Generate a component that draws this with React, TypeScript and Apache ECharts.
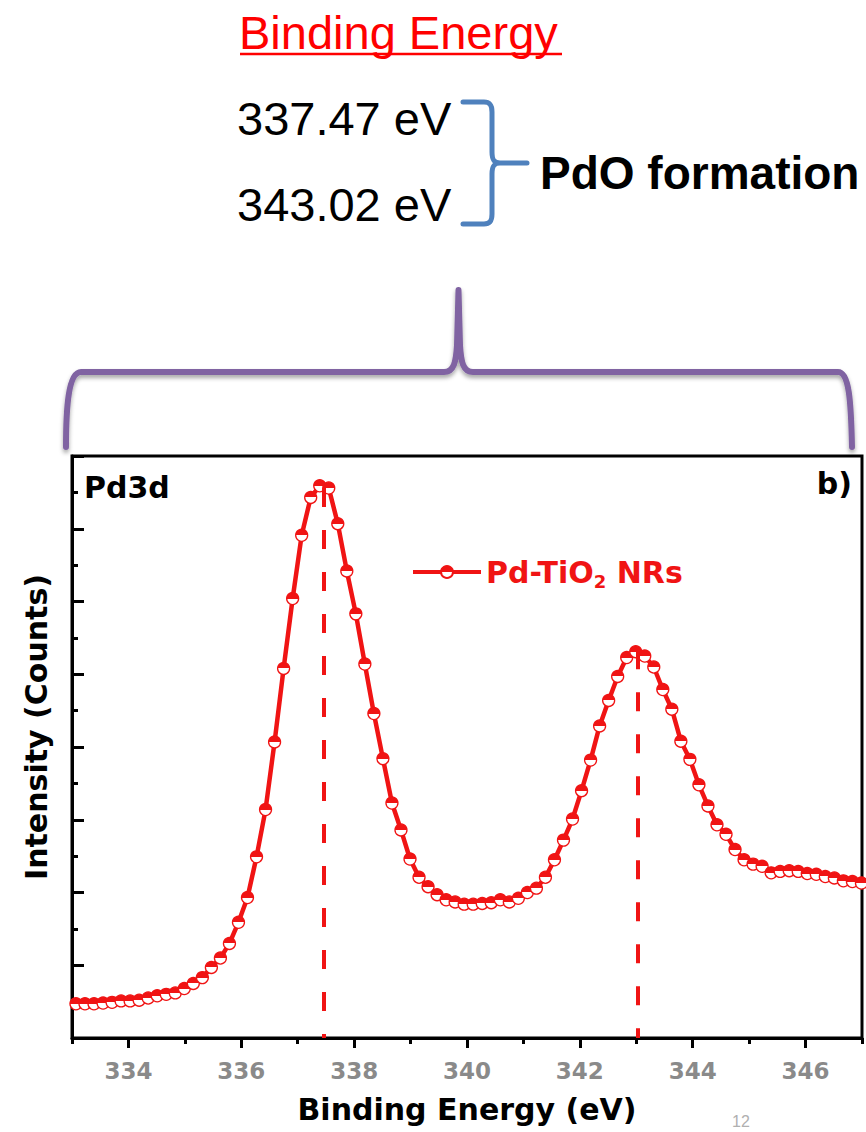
import React, { useEffect, useRef } from "react";
import * as echarts from "echarts";

// ---- data ----
const energies = [
  333.07, 333.23, 333.39, 333.55, 333.71, 333.87, 334.03, 334.19, 334.35, 334.51,
  334.67, 334.83, 334.99, 335.15, 335.31, 335.47, 335.63, 335.79, 335.95, 336.11,
  336.27, 336.43, 336.59, 336.75, 336.91, 337.07, 337.23, 337.39, 337.55, 337.71,
  337.87, 338.03, 338.19, 338.35, 338.51, 338.67, 338.83, 338.99, 339.15, 339.31,
  339.47, 339.63, 339.79, 339.95, 340.11, 340.27, 340.43, 340.59, 340.75, 340.91,
  341.07, 341.23, 341.39, 341.55, 341.71, 341.87, 342.03, 342.19, 342.35, 342.51,
  342.67, 342.83, 342.99, 343.15, 343.31, 343.47, 343.63, 343.79, 343.95, 344.11,
  344.27, 344.43, 344.59, 344.75, 344.91, 345.07, 345.23, 345.39, 345.55, 345.71,
  345.87, 346.03, 346.19, 346.35, 346.51, 346.67, 346.83, 346.99,
];
const intensities = [
  0.47, 0.47, 0.47, 0.48, 0.49, 0.51, 0.51, 0.52, 0.55, 0.58,
  0.60, 0.62, 0.68, 0.75, 0.83, 0.97, 1.10, 1.30, 1.59, 1.93,
  2.49, 3.14, 4.07, 5.08, 6.04, 6.91, 7.43, 7.59, 7.56, 7.07,
  6.42, 5.83, 5.14, 4.46, 3.84, 3.23, 2.86, 2.46, 2.21, 2.08,
  1.97, 1.90, 1.87, 1.84, 1.84, 1.85, 1.86, 1.90, 1.87, 1.92,
  2.00, 2.06, 2.21, 2.45, 2.72, 3.01, 3.40, 3.82, 4.29, 4.64,
  4.97, 5.23, 5.31, 5.25, 5.10, 4.79, 4.52, 4.08, 3.83, 3.48,
  3.19, 2.93, 2.80, 2.59, 2.45, 2.39, 2.36, 2.27, 2.29, 2.30,
  2.29, 2.26, 2.25, 2.22, 2.20, 2.16, 2.15, 2.13,
];
const peakPositions = [337.47, 343.02];
const peakTops = [7.56, 5.33];
const xMajorTicks = [334, 336, 338, 340, 342, 344, 346];
const seriesName = "Pd-TiO2 NRs";
const peakLabels = ["337.47 eV", "343.02 eV"];
const headerTitle = "Binding Energy";
const headerNote = "PdO formation";
const panelLabel = "Pd3d";
const panelTag = "b)";
const xTitle = "Binding Energy (eV)";
const yTitle = "Intensity (Counts)";
const slideNumber = "12";

// ---- decorative shapes ----
const purpleBracePath =
  "M66,447 C66,410 68,372 81,372 L444,372 C454,372 456,362 457,345 L458.5,290 L460,345 C461,362 463,372 473,372 L838,372 C849,372 851,400 852,447";
const blueBracePath =
  "M463,102 L484,102 C490,102 492,105 492,112 L492,152 C492,160 494,163 500,163 L527,163 M500,163 C494,163 492,166 492,174 L492,214 C492,221 490,224 484,224 L463,224";
echarts.graphic.registerShape("purpleBrace", echarts.graphic.extendPath(purpleBracePath, {}));
echarts.graphic.registerShape("blueBrace", echarts.graphic.extendPath(blueBracePath, {}));

const RED = "#f01414";
const CHART_FONT = "DejaVu Sans";
const SLIDE_FONT = "Liberation Sans, Arial, sans-serif";

export default function App() {
  const ref = useRef<HTMLDivElement>(null);

  useEffect(() => {
    if (!ref.current) return;
    const chart = echarts.init(ref.current, null, { renderer: "svg" });

    const markerFill = new echarts.graphic.LinearGradient(0, 0, 0, 1, [
      { offset: 0, color: RED },
      { offset: 0.5, color: RED },
      { offset: 0.5, color: "#ffffff" },
      { offset: 1, color: "#ffffff" },
    ]);

    const option: any = {
      animation: false,
      backgroundColor: "#ffffff",
      grid: {
        left: 72,
        top: 456,
        right: 4,
        bottom: 94,
        show: true,
        borderColor: "#000",
        borderWidth: 3,
        backgroundColor: "transparent",
      },
      legend: {
        left: 411,
        top: 557,
        padding: 0,
        itemWidth: 68,
        itemHeight: 15,
        data: [seriesName],
        lineStyle: { width: 4, color: RED },
        formatter: () => "{a|Pd-TiO}{b|2}{a| NRs}",
        textStyle: {
          color: RED,
          fontFamily: CHART_FONT,
          fontWeight: "bold",
          fontSize: 30,
          rich: {
            a: { color: RED, fontFamily: CHART_FONT, fontWeight: "bold", fontSize: 30, lineHeight: 36 },
            b: {
              color: RED,
              fontFamily: CHART_FONT,
              fontWeight: "bold",
              fontSize: 18,
              lineHeight: 20,
              verticalAlign: "bottom",
            },
          },
        },
      },
      xAxis: [
        {
          type: "value",
          min: 333,
          max: 347,
          position: "bottom",
          axisLine: { show: true, lineStyle: { color: "#000", width: 3 } },
          axisTick: {
            show: true,
            customValues: xMajorTicks,
            length: 10,
            lineStyle: { color: "#000", width: 3 },
          },
          axisLabel: {
            show: true,
            customValues: xMajorTicks,
            color: "#8a8a8a",
            fontFamily: CHART_FONT,
            fontWeight: "bold",
            fontSize: 23,
            margin: 21,
          },
          splitLine: { show: false },
          name: xTitle,
          nameLocation: "middle",
          nameGap: 56,
          nameTextStyle: { color: "#000", fontFamily: CHART_FONT, fontWeight: "bold", fontSize: 30 },
        },
        {
          type: "value",
          min: 333,
          max: 347,
          interval: 1,
          position: "bottom",
          axisLine: { show: false },
          axisTick: { show: true, length: 6, lineStyle: { color: "#000", width: 3 } },
          axisLabel: { show: false },
          splitLine: { show: false },
        },
      ],
      yAxis: {
        type: "value",
        min: 0,
        max: 8,
        interval: 1,
        axisLine: { show: true, lineStyle: { color: "#000", width: 3 } },
        axisTick: { show: true, inside: true, length: 12, lineStyle: { color: "#000", width: 3 } },
        minorTick: { show: true, splitNumber: 2, length: 6, lineStyle: { color: "#000", width: 3 } },
        axisLabel: { show: false },
        splitLine: { show: false },
        minorSplitLine: { show: false },
      },
      series: [
        {
          name: seriesName,
          type: "line",
          xAxisIndex: 0,
          data: energies.map((e, i) => [e, intensities[i]]),
          symbol: "circle",
          symbolSize: 12,
          showAllSymbol: true,
          lineStyle: { color: RED, width: 4.5 },
          itemStyle: { color: markerFill, borderColor: RED, borderWidth: 1.3 },
          markLine: {
            silent: true,
            symbol: ["none", "none"],
            label: { show: false },
            lineStyle: { color: RED, width: 4, type: [19, 23] },
            data: peakPositions.map((p, i) => [
              { coord: [p, peakTops[i]] },
              { coord: [p, 0] },
            ]),
          },
        },
      ],
      graphic: [
        // slide header texts
        {
          type: "text",
          x: 239,
          y: 32,
          style: {
            text: headerTitle,
            fill: "#ff0000",
            font: `47px ${SLIDE_FONT}`,
            align: "left",
            verticalAlign: "middle",
          },
        },
        {
          type: "line",
          shape: { x1: 240, y1: 54, x2: 562, y2: 54 },
          style: { stroke: "#ff0000", lineWidth: 2.5 },
        },
        {
          type: "text",
          x: 237,
          y: 118,
          style: {
            text: peakLabels[0],
            fill: "#000",
            font: `47px ${SLIDE_FONT}`,
            align: "left",
            verticalAlign: "middle",
          },
        },
        {
          type: "text",
          x: 237,
          y: 204,
          style: {
            text: peakLabels[1],
            fill: "#000",
            font: `47px ${SLIDE_FONT}`,
            align: "left",
            verticalAlign: "middle",
          },
        },
        {
          type: "text",
          x: 540,
          y: 173,
          style: {
            text: headerNote,
            fill: "#000",
            font: `bold 46px ${SLIDE_FONT}`,
            align: "left",
            verticalAlign: "middle",
          },
        },
        {
          type: "blueBrace",
          x: 0,
          y: 0,
          style: { fill: "none", stroke: "#4f81bd", lineWidth: 5, lineCap: "round", lineJoin: "round" },
        },
        {
          type: "purpleBrace",
          x: 0,
          y: 0,
          style: {
            fill: "none",
            stroke: "#8064a2",
            lineWidth: 6,
            lineCap: "round",
            lineJoin: "round",
            shadowBlur: 4,
            shadowOffsetY: 3,
            shadowColor: "rgba(0,0,0,0.35)",
          },
        },
        // chart panel texts
        {
          type: "text",
          x: 84,
          y: 487,
          style: {
            text: panelLabel,
            fill: "#000",
            font: `bold 30px ${CHART_FONT}`,
            align: "left",
            verticalAlign: "middle",
          },
        },
        {
          type: "text",
          x: 852,
          y: 483,
          style: {
            text: panelTag,
            fill: "#000",
            font: `bold 30px ${CHART_FONT}`,
            align: "right",
            verticalAlign: "middle",
          },
        },
        {
          type: "text",
          x: 36,
          y: 727,
          rotation: Math.PI / 2,
          style: {
            text: yTitle,
            fill: "#000",
            font: `bold 30px ${CHART_FONT}`,
            align: "center",
            verticalAlign: "middle",
          },
        },
        {
          type: "text",
          x: 732,
          y: 1113,
          style: {
            text: slideNumber,
            fill: "#b0b0b0",
            font: `16px ${SLIDE_FONT}`,
            align: "left",
            verticalAlign: "top",
          },
        },
      ],
    };

    chart.setOption(option);
    return () => chart.dispose();
  }, []);

  return (
    <div
      ref={ref}
      style={{ position: "absolute", left: 0, top: 0, width: 866, height: 1132, background: "#ffffff" }}
    />
  );
}
